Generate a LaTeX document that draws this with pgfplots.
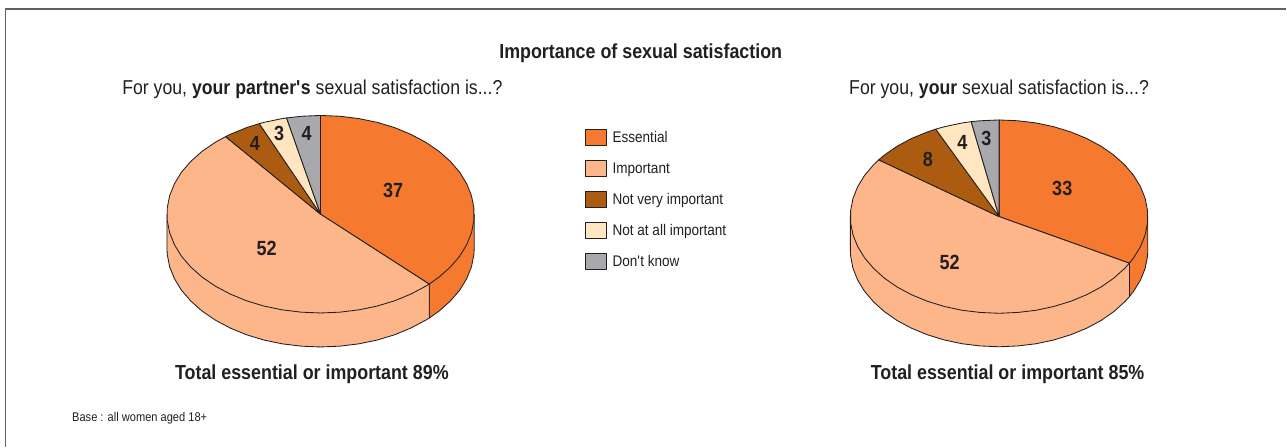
\documentclass[border=0pt]{standalone}
\usepackage{pgfplots}
\usepackage{fontspec}
\pgfplotsset{compat=1.18}
\setmainfont{Liberation Sans}[FakeStretch=0.88]
\definecolor{ink}{HTML}{231F20}
\definecolor{essential}{HTML}{F57A30}
\definecolor{important}{HTML}{FDB58A}
\definecolor{notvery}{HTML}{AC5C10}
\definecolor{notatall}{HTML}{FFE6C0}
\definecolor{dontknow}{HTML}{A7A9AC}
\newcommand{\fs}[1]{\fontsize{#1}{#1}\selectfont}
\tikzset{
  pie/.style={draw=ink, line width=0.85pt, line join=round},
  lab/.style={text=ink, font=\fs{20.5}\bfseries, anchor=center, inner sep=0pt},
}

\begin{document}
\begin{tikzpicture}
\begin{axis}[
  scale only axis, width=1287pt, height=447pt,
  xmin=0, xmax=1287, ymin=0, ymax=447, y dir=reverse,
  axis lines=none, clip=false,
  legend style={at={(axis cs:585,129.5)}, anchor=north west, draw=none, fill=none,
    inner sep=0pt, outer sep=0pt, row sep=14pt, font=\fs{15.4}\color{ink},
    cells={anchor=west}},
  legend cell align=left,
  legend image code/.code={\draw[#1] (0pt,-8pt) rectangle (21pt,8pt); \path (25pt,0pt);},
]
\path (axis cs:0,0) rectangle (axis cs:1287,447);

% frame
\addplot[draw=black!62, line width=1.1pt, forget plot] coordinates {(5.5,447) (5.5,9) (1287,9)};

% left pie: walls
\addplot[pie, fill=essential, forget plot] coordinates {
  (474.4,248.3) (474.1,254.5) (471.7,266.8) (466.9,278.8) (459.8,290.4) (450.5,301.2) (439.1,311.3)
  (429.4,318.2) (429.4,284.2) (474.4,214.3)} --cycle;
\addplot[pie, fill=important, forget plot] coordinates {
  (429.4,318.2) (425.9,320.3) (411.0,328.2) (394.8,334.9) (377.3,340.2) (358.9,344.0) (340.0,346.3)
  (320.7,347.1) (301.4,346.3) (282.5,344.0) (264.1,340.2) (246.6,334.9) (230.4,328.2) (215.5,320.3)
  (202.3,311.3) (190.9,301.2) (181.6,290.4) (174.5,278.8) (169.7,266.8) (167.3,254.5) (167.0,248.3)
  (167.0,214.3) (429.4,284.2)} --cycle;

% left pie: top, in the legend's order
\addplot[pie, fill=essential] coordinates {
  (320.7,214.3) (320.7,115.5) (340.0,116.3) (358.9,118.6) (377.3,122.4) (394.8,127.7) (411.0,134.4)
  (425.9,142.3) (439.1,151.3) (450.5,161.4) (459.8,172.2) (466.9,183.8) (471.7,195.8) (474.1,208.1)
  (474.1,220.5) (471.7,232.8) (466.9,244.8) (459.8,256.4) (450.5,267.2) (439.1,277.3) (429.4,284.2)} --cycle;
\addlegendentry{Essential}
\addplot[pie, fill=important] coordinates {
  (320.7,214.3) (429.4,284.2) (425.9,286.3) (411.0,294.2) (394.8,300.9) (377.3,306.2) (358.9,310.0)
  (340.0,312.3) (320.7,313.1) (301.4,312.3) (282.5,310.0) (264.1,306.2) (246.6,300.9) (230.4,294.2)
  (215.5,286.3) (202.3,277.3) (190.9,267.2) (181.6,256.4) (174.5,244.8) (169.7,232.8) (167.3,220.5)
  (167.3,208.1) (169.7,195.8) (174.5,183.8) (181.6,172.2) (190.9,161.4) (202.3,151.3) (215.5,142.3)
  (225.7,136.7)} --cycle;
\addlegendentry{Important}
\addplot[pie, fill=notvery] coordinates {
  (320.7,214.3) (225.7,136.7) (230.4,134.4) (246.6,127.7) (259.4,123.7)} --cycle;
\addlegendentry{Not very important}
\addplot[pie, fill=notatall] coordinates {
  (320.7,214.3) (259.4,123.7) (264.1,122.4) (282.5,118.6) (286.7,118.0)} --cycle;
\addlegendentry{Not at all important}
\addplot[pie, fill=dontknow] coordinates {
  (320.7,214.3) (286.7,118.0) (301.4,116.3) (320.7,115.5)} --cycle;
\addlegendentry{Don\textquotesingle t know}

% right pie: walls
\addplot[pie, fill=essential, forget plot] coordinates {
  (1148.3,250.2) (1148.0,256.3) (1145.7,268.3) (1141.0,280.1) (1134.1,291.4)
  (1129.9,296.8) (1129.9,263.3) (1148.3,216.7)} --cycle;
\addplot[pie, fill=important, forget plot] coordinates {
  (1129.9,296.8) (1125.1,302.0) (1114.2,311.8) (1101.4,320.7) (1087.0,328.4) (1071.2,334.9) (1054.3,340.1)
  (1036.5,343.9) (1018.1,346.1) (999.5,346.9) (980.9,346.1) (962.5,343.9) (944.7,340.1) (927.8,334.9)
  (912.0,328.4) (897.6,320.7) (884.8,311.8) (873.9,302.0) (864.9,291.4) (858.0,280.1) (853.3,268.3)
  (851.0,256.3) (850.7,250.2) (850.7,216.7) (1129.9,263.3)} --cycle;

% right pie: top
\addplot[pie, fill=essential, forget plot] coordinates {
  (999.5,216.7) (999.5,120.0) (1018.1,120.8) (1036.5,123.0) (1054.3,126.8) (1071.2,132.0) (1087.0,138.5)
  (1101.4,146.2) (1114.2,155.1) (1125.1,164.9) (1134.1,175.5) (1141.0,186.8) (1145.7,198.6) (1148.0,210.6)
  (1148.0,222.8) (1145.7,234.8) (1141.0,246.6) (1134.1,257.9) (1129.9,263.3)} --cycle;
\addplot[pie, fill=important, forget plot] coordinates {
  (999.5,216.7) (1129.9,263.3) (1125.1,268.5) (1114.2,278.3) (1101.4,287.2) (1087.0,294.9) (1071.2,301.4)
  (1054.3,306.6) (1036.5,310.4) (1018.1,312.6) (999.5,313.4) (980.9,312.6) (962.5,310.4) (944.7,306.6)
  (927.8,301.4) (912.0,294.9) (897.6,287.2) (884.8,278.3) (873.9,268.5) (864.9,257.9) (858.0,246.6)
  (853.3,234.8) (851.0,222.8) (851.0,210.6) (853.3,198.6) (858.0,186.8) (864.9,175.5) (873.9,164.9)
  (879.1,159.9)} --cycle;
\addplot[pie, fill=notvery, forget plot] coordinates {
  (999.5,216.7) (879.1,159.9) (884.8,155.1) (897.6,146.2) (912.0,138.5) (927.8,132.0) (936.1,129.2)} --cycle;
\addplot[pie, fill=notatall, forget plot] coordinates {
  (999.5,216.7) (936.1,129.2) (944.7,126.8) (962.5,123.0) (971.6,121.7)} --cycle;
\addplot[pie, fill=dontknow, forget plot] coordinates {
  (999.5,216.7) (971.6,121.7) (980.9,120.8) (999.5,120.0)} --cycle;

% slice labels
\node[lab] at (axis cs:393.3,190.7) {37};
\node[lab] at (axis cs:266.7,248.5) {52};
\node[lab] at (axis cs:255,144) {4};
\node[lab] at (axis cs:279.3,134) {3};
\node[lab] at (axis cs:306.7,134) {4};
\node[lab] at (axis cs:1062.7,188.5) {33};
\node[lab] at (axis cs:950,262.7) {52};
\node[lab] at (axis cs:928.3,160) {8};
\node[lab] at (axis cs:962.7,142.7) {4};
\node[lab] at (axis cs:986.7,138.3) {3};

% titles
\node[anchor=base, text=ink, inner sep=0pt, font=\fs{20.3}\bfseries] at (axis cs:641,58.5) {Importance of sexual satisfaction};
\node[anchor=base, text=ink, inner sep=0pt, font=\fs{20.1}] at (axis cs:312.5,94.5) {For you, \textbf{your partner\textquotesingle s} sexual satisfaction is...?};
\node[anchor=base, text=ink, inner sep=0pt, font=\fs{20.1}] at (axis cs:999.5,94.5) {For you, \textbf{your} sexual satisfaction is...?};
\node[anchor=base, text=ink, inner sep=0pt, font=\fs{20.3}\bfseries] at (axis cs:312,380) {Total essential or important 89\%};
\node[anchor=base, text=ink, inner sep=0pt, font=\fs{20.3}\bfseries] at (axis cs:1008,380) {Total essential or important 85\%};
\node[anchor=base west, text=ink, inner sep=0pt, font=\fs{12.6}] at (axis cs:72,421.5) {Base : all women aged 18+};
\end{axis}
\end{tikzpicture}
\end{document}
